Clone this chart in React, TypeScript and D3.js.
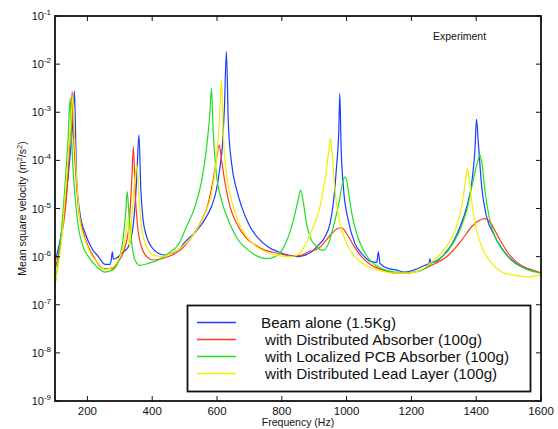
import React from "react";
import * as d3 from "d3";

// each point: [frequency (Hz), log10 of mean square velocity]
const beamAlone: [number, number][] = [
  [100, -6.1], [120, -5.5], [135, -4.7], [148, -3.8], [155, -3.2], [160, -2.56], [164, -3.6],
  [167, -4.41], [177, -5.1], [193, -5.51], [213, -5.82], [234, -6.0], [254, -6.16], [270, -6.16],
  [274, -6.05], [277, -5.9], [280, -6.05], [290, -6.03], [300, -5.97], [306, -5.93], [326, -5.8],
  [342, -5.31], [352, -4.41], [359, -3.47], [365, -4.62], [372, -5.24], [383, -5.59], [398, -5.8],
  [419, -5.93], [440, -5.97], [460, -5.93], [486, -5.83], [501, -5.7], [532, -5.5], [563, -5.22],
  [583, -4.96], [598, -4.62], [608, -4.2], [618, -3.58], [623, -2.89], [629, -1.74], [635, -3.23],
  [645, -4.06], [661, -4.62], [676, -4.96], [702, -5.38], [728, -5.62], [758, -5.8], [789, -5.9],
  [820, -5.97], [850, -6.0], [872, -5.97], [892, -5.9], [913, -5.76], [933, -5.59], [949, -5.31],
  [959, -4.89], [969, -4.13], [976, -3.37], [979, -2.61], [983, -3.72], [990, -4.55], [1005, -5.24],
  [1026, -5.73], [1046, -5.93], [1077, -6.11], [1093, -6.12], [1098, -5.9], [1103, -6.14],
  [1129, -6.25], [1149, -6.27], [1180, -6.32], [1211, -6.27], [1242, -6.18], [1254, -6.15],
  [1257, -6.04], [1260, -6.12], [1273, -6.11], [1304, -5.93], [1329, -5.69], [1350, -5.38],
  [1371, -4.96], [1386, -4.48], [1396, -3.79], [1401, -3.15], [1406, -3.58], [1417, -4.55],
  [1432, -5.17], [1453, -5.52], [1479, -5.83], [1510, -6.07], [1540, -6.21], [1572, -6.28],
  [1600, -6.34],
];

const distributedAbsorber: [number, number][] = [
  [100, -6.28], [120, -5.6], [135, -4.8], [145, -3.7], [150, -3.1], [153, -2.57], [157, -3.4],
  [162, -4.06], [172, -4.96], [187, -5.48], [203, -5.8], [223, -6.04], [249, -6.25], [275, -6.25],
  [295, -6.11], [316, -5.8], [328, -5.38], [337, -4.41], [342, -3.72], [347, -4.62], [355, -5.38],
  [367, -5.8], [383, -6.0], [403, -6.07], [429, -6.04], [460, -5.97], [486, -5.87], [522, -5.59],
  [553, -5.24], [573, -4.89], [588, -4.41], [598, -3.99], [607, -3.68], [614, -3.99], [625, -4.48],
  [640, -4.96], [661, -5.31], [687, -5.59], [718, -5.76], [749, -5.87], [789, -5.93], [830, -5.99],
  [856, -5.98], [882, -5.9], [913, -5.83], [933, -5.69], [954, -5.52], [974, -5.41], [985, -5.4],
  [1000, -5.52], [1021, -5.76], [1046, -6.0], [1077, -6.18], [1108, -6.27], [1149, -6.34],
  [1190, -6.34], [1226, -6.29], [1263, -6.18], [1314, -5.97], [1355, -5.66], [1386, -5.38],
  [1412, -5.24], [1427, -5.21], [1442, -5.28], [1468, -5.59], [1499, -5.93], [1530, -6.14],
  [1561, -6.25], [1600, -6.34],
];

const localizedPCB: [number, number][] = [
  [100, -6.6], [115, -5.8], [130, -4.6], [140, -3.6], [147, -2.7], [151, -3.5], [155, -4.1],
  [162, -4.76], [172, -5.38], [187, -5.8], [203, -6.0], [229, -6.21], [254, -6.32], [280, -6.27],
  [295, -6.11], [311, -5.59], [318, -5.1], [323, -4.65], [328, -5.1], [337, -5.73], [347, -6.07],
  [362, -6.18], [388, -6.14], [419, -6.07], [450, -5.93], [486, -5.69], [501, -5.45], [532, -4.96],
  [553, -4.41], [568, -3.72], [578, -3.02], [583, -2.5], [588, -3.37], [598, -4.27], [614, -4.83],
  [635, -5.24], [666, -5.66], [697, -5.87], [728, -6.0], [754, -6.04], [779, -6.0], [800, -5.87],
  [820, -5.59], [841, -5.1], [851, -4.8], [858, -4.62], [866, -4.85], [876, -5.3], [887, -5.59],
  [908, -5.8], [928, -5.87], [944, -5.73], [959, -5.38], [974, -4.96], [990, -4.41], [997, -4.34],
  [1005, -4.62], [1016, -5.1], [1031, -5.52], [1052, -5.87], [1077, -6.11], [1108, -6.25],
  [1149, -6.32], [1190, -6.33], [1226, -6.3], [1263, -6.14], [1314, -5.87], [1345, -5.52],
  [1371, -5.03], [1391, -4.41], [1406, -3.99], [1412, -3.89], [1417, -4.03], [1427, -4.62],
  [1442, -5.24], [1463, -5.66], [1489, -5.93], [1520, -6.14], [1551, -6.25], [1600, -6.35],
];

const leadLayer: [number, number][] = [
  [100, -6.55], [118, -5.8], [132, -4.7], [143, -3.7], [150, -3.1], [155, -2.65], [160, -3.5],
  [167, -4.41], [177, -5.24], [193, -5.66], [213, -5.97], [234, -6.14], [254, -6.27], [280, -6.21],
  [300, -6.0], [316, -5.66], [326, -5.21], [330, -5.8], [337, -5.2], [345, -4.5], [353, -4.1],
  [359, -4.76], [367, -5.38], [383, -5.8], [403, -5.97], [429, -6.0], [460, -5.93], [486, -5.83],
  [522, -5.59], [563, -5.1], [583, -4.69], [598, -3.99], [607, -3.23], [614, -2.32], [618, -3.23],
  [629, -4.27], [645, -4.83], [666, -5.28], [692, -5.59], [723, -5.8], [758, -5.92], [800, -5.99],
  [830, -6.0], [856, -5.93], [872, -5.76], [897, -5.38], [918, -4.96], [933, -4.41], [944, -3.85],
  [950, -3.54], [956, -3.93], [964, -4.62], [980, -5.31], [1000, -5.73], [1026, -6.0], [1057, -6.18],
  [1098, -6.28], [1149, -6.34], [1190, -6.34], [1226, -6.29], [1263, -6.11], [1304, -5.83],
  [1335, -5.45], [1355, -4.96], [1366, -4.48], [1373, -4.17], [1378, -4.34], [1388, -4.96],
  [1401, -5.45], [1422, -5.87], [1448, -6.14], [1479, -6.32], [1520, -6.39], [1561, -6.42],
  [1600, -6.38],
];

const seriesNames = [
  "Beam alone (1.5Kg)",
  "with Distributed Absorber (100g)",
  "with Localized PCB Absorber (100g)",
  "with Distributed Lead Layer (100g)",
];
const seriesColors = ["#1a3cff", "#ff3a1a", "#22dd22", "#f2ee00"];
const seriesData = [beamAlone, distributedAbsorber, localizedPCB, leadLayer];

const xTicks = [200, 400, 600, 800, 1000, 1200, 1400, 1600];
const yDecades = [-9, -8, -7, -6, -5, -4, -3, -2, -1];

const W = 558;
const H = 429;
const M = { left: 55, right: 17, top: 16, bottom: 28 };
const FONT = "'Liberation Sans', Arial, Helvetica, sans-serif";

export default function App() {
  const x = d3.scaleLinear().domain([100, 1600]).range([M.left, W - M.right]);
  const y = d3.scaleLog().domain([1e-9, 1e-1]).range([H - M.bottom, M.top]);
  const line = d3
    .line<[number, number]>()
    .x((d) => x(d[0]))
    .y((d) => y(Math.pow(10, d[1])))
    .curve(d3.curveMonotoneX);

  const x0 = M.left;
  const x1 = W - M.right;
  const y0 = M.top;
  const y1 = H - M.bottom;

  const legend = { x: 187.5, y: 305.5, w: 343, h: 86 };

  return (
    <svg
      width={W}
      height={H}
      style={{ position: "absolute", left: 0, top: 0, background: "#fff" }}
      fontFamily={FONT}
    >
      <rect width={W} height={H} fill="#fff" />
      {/* curves */}
      <g fill="none" strokeWidth={1.2}>
        {seriesData.map((data, i) => (
          <path key={i} d={line(data) || ""} stroke={seriesColors[i]} />
        ))}
      </g>

      {/* frame + ticks */}
      <rect x={x0} y={y0} width={x1 - x0} height={y1 - y0} fill="none" stroke="#111" strokeWidth={1.8} />
      {xTicks.map((t) => (
        <g key={t} stroke="#111" strokeWidth={1}>
          <line x1={x(t)} x2={x(t)} y1={y1} y2={y1 - 5} />
          <line x1={x(t)} x2={x(t)} y1={y0} y2={y0 + 5} />
        </g>
      ))}
      {yDecades.map((d) => (
        <g key={d} stroke="#111" strokeWidth={1}>
          <line x1={x0} x2={x0 + 5} y1={y(Math.pow(10, d))} y2={y(Math.pow(10, d))} />
          <line x1={x1} x2={x1 - 5} y1={y(Math.pow(10, d))} y2={y(Math.pow(10, d))} />
        </g>
      ))}

      {/* tick labels */}
      {xTicks.map((t) => (
        <text key={t} x={x(t)} y={y1 + 14} fontSize={11.5} textAnchor="middle" fill="#111">
          {t}
        </text>
      ))}
      {yDecades.map((d) => (
        <text key={d} x={51} y={y(Math.pow(10, d)) + 4} fontSize={11} textAnchor="end" fill="#111">
          10
          <tspan dy={-5} fontSize={8}>
            {d}
          </tspan>
        </text>
      ))}

      {/* axis titles */}
      <text x={(x0 + x1) / 2} y={426} fontSize={10.5} textAnchor="middle" fill="#111">
        Frequency (Hz)
      </text>
      <text
        transform={`translate(26,${(y0 + y1) / 2}) rotate(-90)`}
        fontSize={10.5}
        textAnchor="middle"
        fill="#111"
      >
        Mean square velocity (m
        <tspan dy={-4} fontSize={7.5}>2</tspan>
        <tspan dy={4}>/s</tspan>
        <tspan dy={-4} fontSize={7.5}>2</tspan>
        <tspan dy={4}>)</tspan>
      </text>

      <text x={433} y={40} fontSize={10.5} fill="#111">
        Experiment
      </text>

      {/* legend */}
      <rect
        x={legend.x}
        y={legend.y}
        width={legend.w}
        height={legend.h}
        fill="#fff"
        stroke="#111"
        strokeWidth={1.8}
      />
      {seriesNames.map((name, i) => {
        const ry = 322.5 + i * 17;
        return (
          <g key={name}>
            <line x1={197} x2={236} y1={ry} y2={ry} stroke={seriesColors[i]} strokeWidth={1.5} />
            <text x={i === 0 ? 261 : 265} y={ry + 5} fontSize={15.2} fill="#111">
              {name}
            </text>
          </g>
        );
      })}
    </svg>
  );
}
